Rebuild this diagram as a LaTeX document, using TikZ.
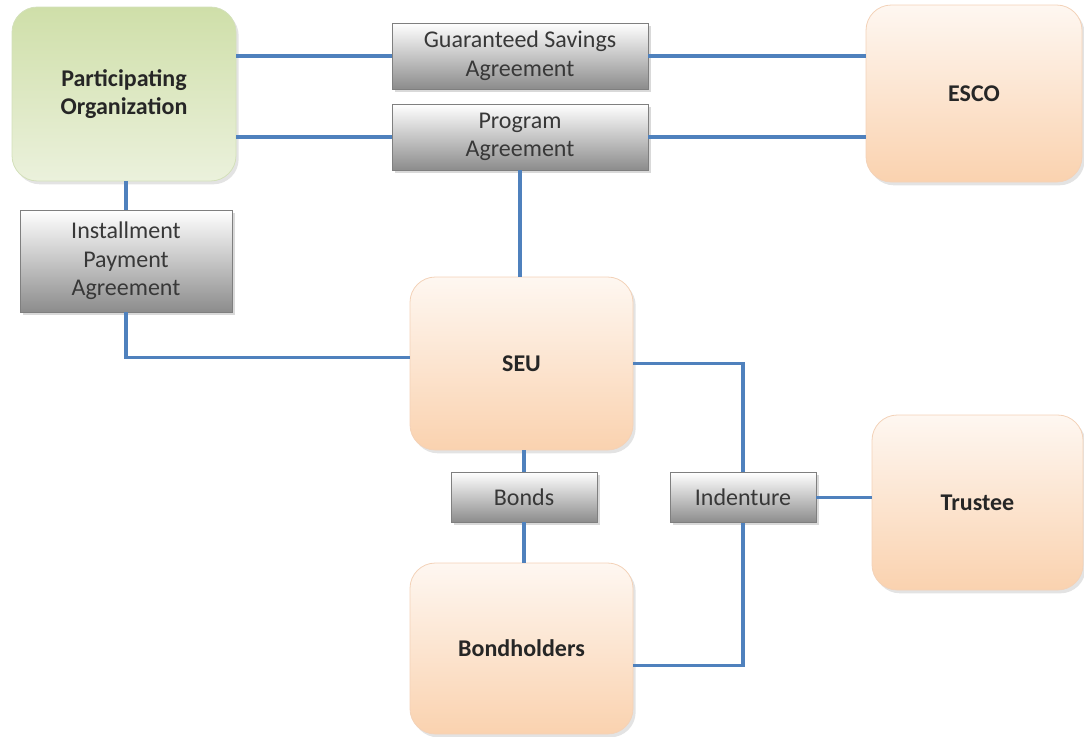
\documentclass[tikz,border=0pt]{standalone}
\usepackage{fontspec}
\setmainfont{Carlito}
\usetikzlibrary{shadows}

\definecolor{linkblue}{HTML}{4F81BD}
\definecolor{peachtop}{HTML}{FEF7F1}
\definecolor{peachbot}{HTML}{FAD2AF}
\definecolor{peachedge}{HTML}{F3D2B8}
\definecolor{greentop}{HTML}{CFDFA9}
\definecolor{greenbot}{HTML}{EBF1DC}
\definecolor{greenedge}{HTML}{D3E0BA}
\definecolor{greybot}{HTML}{8C8C8C}
\definecolor{greyedge}{HTML}{7F7F7F}

\begin{document}
\begin{tikzpicture}[x=0.75pt, y=-0.75pt,
    font=\fontsize{18}{21.5}\selectfont,
    party/.style={draw=peachedge, line width=0.6pt, rounded corners=19pt,
      top color=peachtop, bottom color=peachbot, align=center,
      font=\fontsize{18}{21.5}\selectfont\bfseries, text=black!85,
      drop shadow={opacity=0.22, shadow xshift=2pt, shadow yshift=-2.5pt}},
    client/.style={party, draw=greenedge, top color=greentop, bottom color=greenbot},
    deal/.style={draw=greyedge, line width=0.5pt, top color=white, bottom color=greybot,
      align=center, text=black!78, inner sep=1pt,
      drop shadow={opacity=0.3, shadow xshift=2pt, shadow yshift=-2pt}},
    link/.style={linkblue, line width=2.3pt}]
  \useasboundingbox (0,0) rectangle (1084,736);

  % parties
  \node[client, minimum width=168pt, minimum height=130.5pt] (org) at (124,94) {Participating\\Organization};
  \node[party, minimum width=162pt, minimum height=132.75pt] (esco) at (974,93.5) {ESCO};
  \node[party, minimum width=167.25pt, minimum height=129.75pt] (seu) at (521.5,363.5) {SEU};
  \node[party, minimum width=158.25pt, minimum height=131.25pt] (trustee) at (977.5,502.5) {Trustee};
  \node[party, minimum width=167.25pt, minimum height=128.25pt] (holders) at (521.5,648.5) {Bondholders};

  % agreements
  \node[deal, minimum width=192pt, minimum height=49.5pt] (gsa) at (520,56) {Guaranteed Savings\\Agreement};
  \node[deal, minimum width=192pt, minimum height=49.5pt] (prog) at (520,137) {Program\\Agreement};
  \node[deal, minimum width=159pt, minimum height=76.5pt] (install) at (126,261) {Installment\\Payment\\Agreement};
  \node[deal, minimum width=109.5pt, minimum height=37.5pt] (bonds) at (524,497) {Bonds};
  \node[deal, minimum width=109.5pt, minimum height=37.5pt] (indenture) at (743,497.5) {Indenture};

  % links
  \draw[link] (gsa.west) -- (gsa.west -| org.east);
  \draw[link] (gsa.east) -- (gsa.east -| esco.west);
  \draw[link] (prog.west) -- (prog.west -| org.east);
  \draw[link] (prog.east) -- (prog.east -| esco.west);
  \draw[link] (prog.south) -- (prog.south |- seu.north);
  \draw[link] (org.south -| install.north) -- (install.north);
  \coordinate (seuin) at ([yshift=4.5pt]seu.west);
  \draw[link] (install.south) |- (seuin);
  \draw[link] (seu.east) -| (indenture.north);
  \draw[link] (indenture.east) -- (indenture.east -| trustee.west);
  \coordinate (holdout) at ([yshift=-13pt]holders.east);
  \draw[link] (indenture.south) |- (holdout);
  \draw[link] (seu.south -| bonds.north) -- (bonds.north);
  \draw[link] (bonds.south) -- (bonds.south |- holders.north);
\end{tikzpicture}
\end{document}
